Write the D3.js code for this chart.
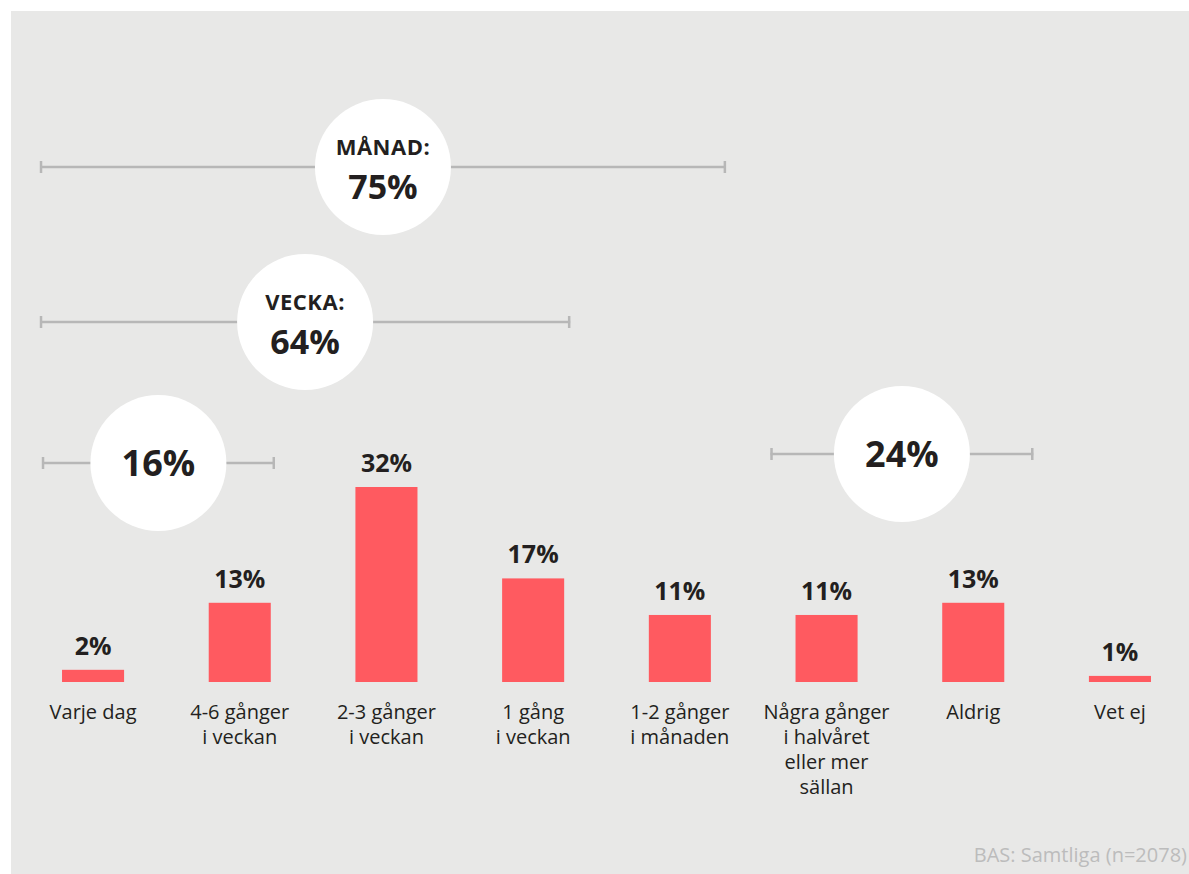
<!DOCTYPE html>
<html>
<head>
<meta charset="utf-8">
<script src="https://cdn.jsdelivr.net/npm/d3@7"></script>
<style>
  html, body { margin: 0; padding: 0; background: #ffffff; }
  svg { display: block; }
  text { font-family: "Open Sans", "Noto Sans", sans-serif; }
</style>
</head>
<body>
<svg id="chart" width="1189" height="874"></svg>
<script>
// Hur ofta: andel per svarsalternativ
const categories = [
  ["Varje dag"],
  ["4-6 gånger", "i veckan"],
  ["2-3 gånger", "i veckan"],
  ["1 gång", "i veckan"],
  ["1-2 gånger", "i månaden"],
  ["Några gånger", "i halvåret", "eller mer", "sällan"],
  ["Aldrig"],
  ["Vet ej"]
];
const values = [2, 13, 32, 17, 11, 11, 13, 1];

// Summeringar över flera svarsalternativ (första och sista kategoriindex)
const groupTitles = ["MÅNAD:", "VECKA:", "", ""];
const groupValues = [75, 64, 16, 24];
const groupFrom = [0, 0, 0, 5];
const groupTo = [4, 3, 1, 6];

const footnote = "BAS: Samtliga (n=2078)";

const W = 1189, H = 874;
const svg = d3.select("#chart");

const colors = {
  panel: "#e8e8e7",
  bar: "#ff5a60",
  text: "#231f20",
  bracket: "#b7b7b7",
  note: "#bcbcbc"
};

svg.append("rect")
  .attr("x", 11).attr("y", 11)
  .attr("width", W - 11).attr("height", H - 11)
  .attr("fill", colors.panel);

const baseline = 682;

const x = d3.scaleBand()
  .domain(d3.range(categories.length))
  .range([19.7, 1193.3])
  .paddingInner(0.577)
  .paddingOuter(0.2885);

const y = d3.scaleLinear()
  .domain([0, 32])
  .range([baseline, 487]);

// Staplar
svg.append("g").selectAll("rect")
  .data(values)
  .join("rect")
  .attr("x", (d, i) => x(i))
  .attr("y", d => y(d))
  .attr("width", x.bandwidth())
  .attr("height", d => baseline - y(d))
  .attr("fill", colors.bar);

// Värdeetiketter
svg.append("g").selectAll("text")
  .data(values)
  .join("text")
  .attr("x", (d, i) => x(i) + x.bandwidth() / 2)
  .attr("y", d => y(d) - 15)
  .attr("text-anchor", "middle")
  .attr("font-size", 25)
  .attr("font-weight", 700)
  .attr("fill", colors.text)
  .text(d => d + "%");

// Kategorietiketter
const catG = svg.append("g").selectAll("text")
  .data(categories)
  .join("text")
  .attr("x", (d, i) => x(i) + x.bandwidth() / 2)
  .attr("y", baseline + 37)
  .attr("text-anchor", "middle")
  .attr("font-size", 20)
  .attr("fill", colors.text);
catG.selectAll("tspan")
  .data(d => d)
  .join("tspan")
  .attr("x", function () { return d3.select(this.parentNode).attr("x"); })
  .attr("dy", (d, j) => j === 0 ? 0 : 25)
  .text(d => d);

// Klammer-layout: förlängning utanför staplarna samt höjd
const bracketExt = [[22, 15], [22, 6], [20, 4], [25, 29]];
const bracketY = [167, 322, 463, 454];
const radius = 68;

const groups = groupValues.map((v, i) => {
  const x0 = x(groupFrom[i]) - bracketExt[i][0];
  const x1 = x(groupTo[i]) + x.bandwidth() + bracketExt[i][1];
  return { title: groupTitles[i], value: v, x0, x1, cx: (x0 + x1) / 2, y: bracketY[i] };
});

const gG = svg.append("g").selectAll("g")
  .data(groups)
  .join("g");

gG.append("line")
  .attr("x1", d => d.x0).attr("x2", d => d.x1)
  .attr("y1", d => d.y).attr("y2", d => d.y)
  .attr("stroke", colors.bracket).attr("stroke-width", 2.5);
gG.append("line")
  .attr("x1", d => d.x0 + 1).attr("x2", d => d.x0 + 1)
  .attr("y1", d => d.y - 6).attr("y2", d => d.y + 6)
  .attr("stroke", colors.bracket).attr("stroke-width", 2.5);
gG.append("line")
  .attr("x1", d => d.x1 - 1).attr("x2", d => d.x1 - 1)
  .attr("y1", d => d.y - 6).attr("y2", d => d.y + 6)
  .attr("stroke", colors.bracket).attr("stroke-width", 2.5);

gG.append("circle")
  .attr("cx", d => d.cx).attr("cy", d => d.y)
  .attr("r", radius)
  .attr("fill", "#ffffff");

// Rubrik i cirkeln
gG.filter(d => d.title).append("text")
  .attr("x", d => d.cx)
  .attr("y", d => d.y - 12)
  .attr("text-anchor", "middle")
  .attr("fill", colors.text)
  .attr("font-weight", 700)
  .attr("font-size", 22)
  .attr("letter-spacing", 0.5)
  .text(d => d.title);

// Summa i cirkeln
gG.append("text")
  .attr("x", d => d.cx)
  .attr("y", d => d.title ? d.y + 32 : d.y + 13)
  .attr("text-anchor", "middle")
  .attr("fill", colors.text)
  .attr("font-weight", 700)
  .attr("font-size", d => d.title ? 34 : 36)
  .text(d => d.value + "%");

svg.append("text")
  .attr("x", W - 2).attr("y", H - 12)
  .attr("text-anchor", "end")
  .attr("font-size", 20)
  .attr("fill", colors.note)
  .text(footnote);
</script>
</body>
</html>
